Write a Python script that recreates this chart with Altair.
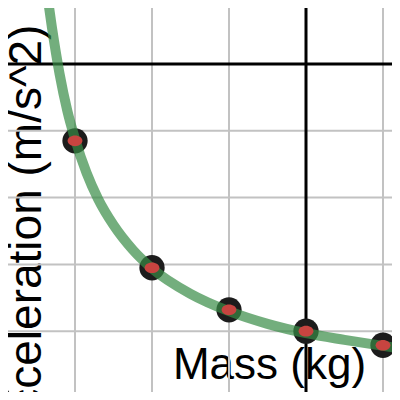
import altair as alt
import pandas as pd

# measured data points (mass in kg, acceleration in m/s^2)
mass = [0, 1, 2, 3, 4, 5]
accel = [0, 3.85, 1.95, 1.32, 1.0, 0.79]

# fitted curve
fit_mass = [0.62, 0.7, 0.8, 0.9, 1.0, 1.15, 1.3, 1.5, 1.75, 2.0, 2.5, 3.0, 3.5, 4.0, 4.5, 5.0, 5.3]
fit_accel = [6.2, 5.55, 4.85, 4.3, 3.88, 3.37, 2.98, 2.59, 2.22, 1.94, 1.56, 1.3, 1.11, 0.97, 0.87, 0.78, 0.73]

# grid lines
grid_x = [1, 2, 3, 5]
major_x = [4]
grid_y = [1, 2, 3, 4]
major_y = [0, 5]

points = pd.DataFrame({"mass": mass, "accel": accel})
fit = pd.DataFrame({"mass": fit_mass, "accel": fit_accel})

W = 384
xs = alt.Scale(domain=[10 / 77, 394 / 77], nice=False, zero=False)
ys = alt.Scale(domain=[6 / 66.8, 390 / 66.8], nice=False, zero=False)

FONT = "Liberation Sans"

x_axis = alt.Axis(title="Mass (kg)", domain=False, ticks=False, labels=False, grid=False,
                  titleX=261, titleY=-14, titleAlign="center", titleBaseline="alphabetic",
                  titleFontSize=44, titleFont=FONT, titleFontWeight="normal", titleColor="black")
y_axis = alt.Axis(title="Acceleration (m/s^2)", domain=False, ticks=False, labels=False, grid=False,
                  titleX=18, titleY=225, titleAngle=270, titleAlign="center", titleBaseline="middle",
                  titleFontSize=46, titleFont=FONT, titleFontWeight="normal", titleColor="black")

X = alt.X("mass:Q", scale=xs, axis=x_axis)
Y = alt.Y("accel:Q", scale=ys, axis=y_axis)

gx = alt.Chart(pd.DataFrame({"mass": grid_x})).mark_rule(color="#c2c2c2", strokeWidth=2).encode(x=X)
gy = alt.Chart(pd.DataFrame({"accel": grid_y})).mark_rule(color="#c2c2c2", strokeWidth=2).encode(y=Y)
mx = alt.Chart(pd.DataFrame({"mass": major_x})).mark_rule(color="black", strokeWidth=3).encode(x=X)
my = alt.Chart(pd.DataFrame({"accel": major_y})).mark_rule(color="black", strokeWidth=3).encode(y=Y)

base = alt.Chart(points).encode(x=X, y=Y)

dots = base.mark_point(filled=True, size=640, color="#1c1c1c", opacity=1)

curve = alt.Chart(fit).mark_line(color="#388c46", strokeWidth=10, opacity=0.7,
                                 interpolate="monotone", clip=True).encode(x=X, y=Y)

red = base.mark_point(filled=True, size=220, color="#c74440", opacity=1,
                      shape="M -1 0 A 1 0.72 0 1 0 1 0 A 1 0.72 0 1 0 -1 0 Z")

chart = alt.layer(gx, gy, mx, my, dots, curve, red).properties(
    width=W, height=W, autosize=alt.AutoSizeParams(type="none"), padding=0
).configure_view(stroke=None)

chart.save("out.html", embed_options={"renderer": "svg", "actions": False})
